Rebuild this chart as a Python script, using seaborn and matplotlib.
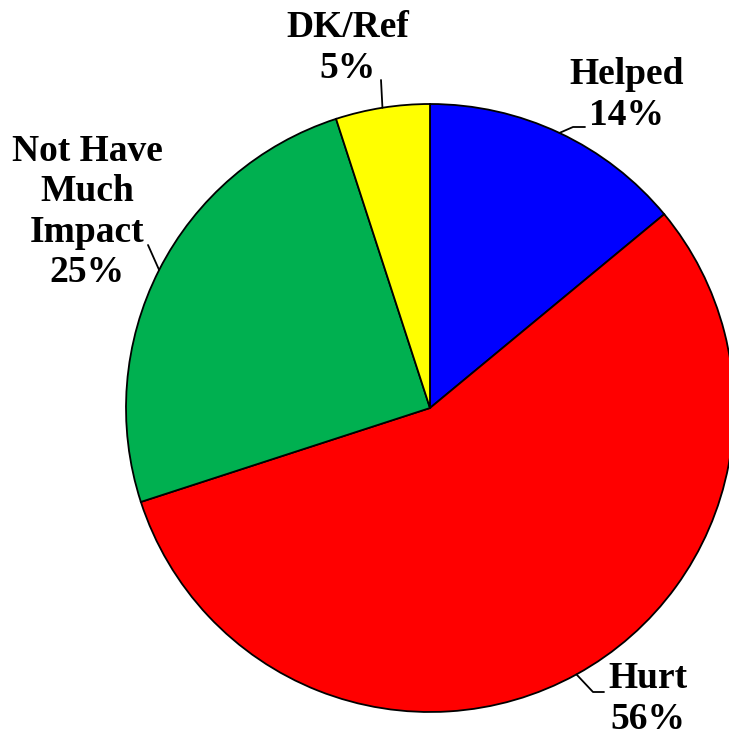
import numpy as np
import matplotlib
matplotlib.use("Agg")
import matplotlib.pyplot as plt
import seaborn as sns

# data
categories = ["Helped", "Hurt", "Not Have\nMuch\nImpact", "DK/Ref"]
shares = [14, 56, 25, 5]
colors = ["#0000FF", "#FF0000", "#00B050", "#FFFF00"]

# label layout (pixels, y measured from top) and elbow of leader lines
label_pos = [(627, 95), (648, 699), (87, 212), (348, 48)]
elbows = [[(573, 127), (585, 127)],
          [(593, 692), (604, 692)],
          [(148, 245)],
          [(381, 80)]]

sns.set_theme(style="white")
plt.rcParams["font.family"] = ["Liberation Serif", "DejaVu Serif"]

W, H = 729, 738
fig = plt.figure(figsize=(W / 100, H / 100), dpi=100)
ax = fig.add_axes([0, 0, 1, 1])

cx, cy, r = 430, H - 408, 304
wedges, _ = ax.pie(shares, colors=colors, startangle=90, counterclock=False,
                   center=(cx, cy), radius=r,
                   wedgeprops=dict(edgecolor="black", linewidth=1.3))
ax.set_xlim(0, W)
ax.set_ylim(0, H)
ax.set_aspect("equal")
ax.axis("off")

for w, cat, val, (tx, ty), elb in zip(wedges, categories, shares, label_pos, elbows):
    mid = np.deg2rad((w.theta1 + w.theta2) / 2)
    ex, ey = cx + r * np.cos(mid), cy + r * np.sin(mid)
    xs = [ex] + [p[0] for p in elb]
    ys = [ey] + [H - p[1] for p in elb]
    ax.plot(xs, ys, color="black", lw=1.3, clip_on=False)
    ax.text(tx, H - ty, f"{cat}\n{val}%", ha="center", va="center",
            fontsize=27, fontweight="bold", color="black",
            multialignment="center", linespacing=1.2)

fig.savefig("out.png", dpi=100)
